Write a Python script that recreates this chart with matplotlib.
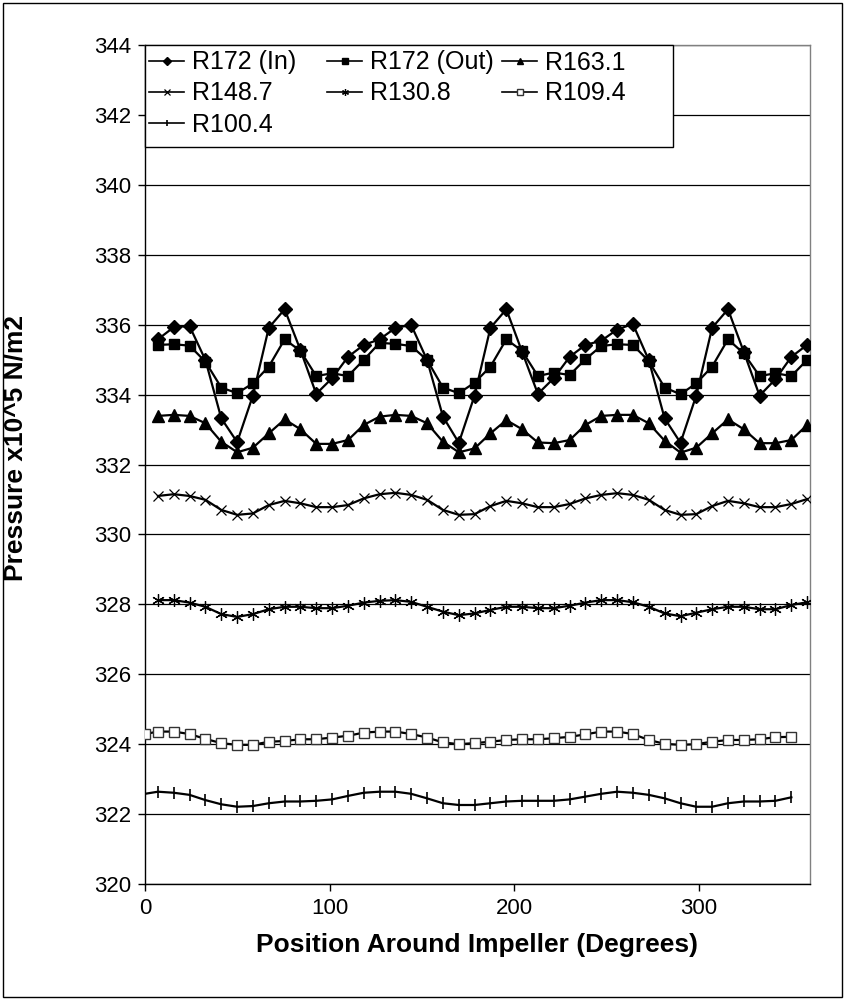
import matplotlib
matplotlib.use("Agg")
import matplotlib.pyplot as plt
from matplotlib.patches import Rectangle

plt.rcParams['font.family'] = ['Liberation Sans', 'DejaVu Sans']

# Measurement angles (degrees) around the impeller
angles = [7.0, 15.6, 24.1, 32.7, 41.3, 49.9, 58.4, 67.0, 75.6, 84.1, 92.7, 101.3,
          109.9, 118.4, 127.0, 135.6, 144.1, 152.7, 161.3, 169.9, 178.4, 187.0,
          195.6, 204.1, 212.7, 221.3, 229.9, 238.4, 247.0, 255.6, 264.1, 272.7,
          281.3, 289.9, 298.4, 307.0, 315.6, 324.1, 332.7, 341.3, 349.9, 358.4]
angles_inner = [0.0, 7.0, 15.6, 24.1, 32.7, 41.3, 49.9, 58.4, 67.0, 75.6, 84.1, 92.7,
                101.3, 109.9, 118.4, 127.0, 135.6, 144.1, 152.7, 161.3, 169.9, 178.4,
                187.0, 195.6, 204.1, 212.7, 221.3, 229.9, 238.4, 247.0, 255.6, 264.1,
                272.7, 281.3, 289.9, 298.4, 307.0, 315.6, 324.1, 332.7, 341.3, 349.9]

# Pressure (x10^5 N/m2) at each radius
r172_in = [335.58, 335.93, 335.96, 334.99, 333.32, 332.64, 333.97, 335.91, 336.44, 335.28,
           334.02, 334.47, 335.08, 335.42, 335.58, 335.91, 335.99, 334.99, 333.37, 332.62,
           333.97, 335.91, 336.44, 335.23, 334.02, 334.47, 335.08, 335.42, 335.54, 335.86,
           336.02, 334.99, 333.32, 332.62, 333.97, 335.91, 336.44, 335.23, 333.97, 334.44,
           335.08, 335.42]
r172_out = [335.42, 335.44, 335.40, 334.94, 334.20, 334.04, 334.32, 334.80, 335.58, 335.25,
            334.53, 334.61, 334.53, 334.99, 335.48, 335.45, 335.39, 334.99, 334.20, 334.04,
            334.34, 334.80, 335.58, 335.25, 334.53, 334.63, 334.56, 335.01, 335.39, 335.44,
            335.42, 334.96, 334.20, 334.01, 334.32, 334.80, 335.58, 335.18, 334.53, 334.61,
            334.53, 334.99]
r163_1 = [333.39, 333.42, 333.39, 333.18, 332.65, 332.35, 332.48, 332.89, 333.29, 333.01,
          332.59, 332.59, 332.70, 333.13, 333.37, 333.42, 333.39, 333.18, 332.65, 332.35,
          332.46, 332.89, 333.27, 333.01, 332.63, 332.61, 332.70, 333.13, 333.39, 333.42,
          333.42, 333.18, 332.68, 332.34, 332.48, 332.89, 333.29, 333.01, 332.61, 332.61,
          332.70, 333.13]
r148_7 = [331.10, 331.15, 331.10, 330.99, 330.70, 330.56, 330.60, 330.84, 330.96, 330.89,
          330.78, 330.78, 330.84, 331.03, 331.15, 331.19, 331.13, 330.99, 330.70, 330.56,
          330.58, 330.81, 330.96, 330.89, 330.78, 330.78, 330.87, 331.03, 331.13, 331.18,
          331.13, 330.99, 330.70, 330.56, 330.58, 330.81, 330.96, 330.89, 330.78, 330.78,
          330.87, 331.01]
r130_8 = [328.12, 328.12, 328.05, 327.93, 327.72, 327.64, 327.72, 327.86, 327.93, 327.93,
          327.89, 327.89, 327.96, 328.05, 328.10, 328.12, 328.07, 327.93, 327.79, 327.69,
          327.74, 327.84, 327.93, 327.93, 327.89, 327.89, 327.96, 328.05, 328.12, 328.12,
          328.06, 327.93, 327.74, 327.66, 327.76, 327.86, 327.93, 327.93, 327.86, 327.86,
          327.98, 328.06]
r109_4 = [324.29, 324.36, 324.36, 324.29, 324.15, 324.03, 323.98, 323.98, 324.07, 324.09,
          324.14, 324.14, 324.19, 324.24, 324.33, 324.36, 324.36, 324.29, 324.19, 324.05,
          324.00, 324.03, 324.07, 324.12, 324.14, 324.14, 324.17, 324.21, 324.28, 324.36,
          324.36, 324.29, 324.12, 324.01, 323.98, 324.00, 324.07, 324.12, 324.12, 324.14,
          324.20, 324.21]
r100_4 = [322.58, 322.64, 322.61, 322.55, 322.40, 322.28, 322.21, 322.23, 322.31, 322.36,
          322.36, 322.38, 322.42, 322.52, 322.61, 322.64, 322.64, 322.58, 322.45, 322.31,
          322.26, 322.26, 322.31, 322.36, 322.38, 322.38, 322.38, 322.42, 322.50, 322.58,
          322.64, 322.61, 322.55, 322.45, 322.31, 322.21, 322.21, 322.31, 322.36, 322.36,
          322.38, 322.48]

y_ticks = list(range(320, 345, 2))
x_ticks = [0, 100, 200, 300]

fig = plt.figure(figsize=(8.45, 10.0), dpi=100)
ax = fig.add_axes([145 / 845, 116 / 1000, 665 / 845, 839 / 1000])

lw = 1.6
h_in, = ax.plot(angles, r172_in, color='black', lw=lw, marker='D', ms=7.5,
                mfc='black', mec='black', label='R172 (In)', zorder=5)
h_out, = ax.plot(angles, r172_out, color='black', lw=lw, marker='s', ms=7,
                 mfc='black', mec='black', label='R172 (Out)', zorder=5)
h_163, = ax.plot(angles, r163_1, color='black', lw=lw, marker='^', ms=8,
                 mfc='black', mec='black', label='R163.1', zorder=5)
h_148, = ax.plot(angles, r148_7, color='black', lw=lw, marker='x', ms=7,
                 mew=0.9, label='R148.7', zorder=5)
h_130, = ax.plot(angles, r130_8, color='black', lw=lw, marker=(6, 2, 0), ms=9,
                 mew=0.9, label='R130.8', zorder=5)
h_109, = ax.plot(angles_inner, r109_4, color='black', lw=lw, marker='s', ms=7.5,
                 mfc='white', mec='#333333', mew=1.0, label='R109.4', zorder=5)
h_100, = ax.plot(angles_inner, r100_4, color='black', lw=lw, marker='|', ms=9,
                 mew=1.2, label='R100.4', zorder=5)

ax.set_xlim(0, 360)
ax.set_ylim(320, 344)
ax.set_xticks(x_ticks)
ax.set_yticks(y_ticks)
ax.tick_params(axis='both', labelsize=16, direction='out', length=5,
               width=1, color='black', pad=5)
ax.grid(axis='y', color='black', lw=0.9)
ax.set_axisbelow(True)

for side in ['top', 'right']:
    ax.spines[side].set_color('#808080')
    ax.spines[side].set_linewidth(1.0)
for side in ['left', 'bottom']:
    ax.spines[side].set_color('black')
    ax.spines[side].set_linewidth(1.0)

ax.set_xlabel('Position Around Impeller (Degrees)', fontsize=19,
              fontweight='bold', labelpad=10)
ax.set_ylabel('Pressure x10^5 N/m2', fontsize=19, fontweight='bold')
ax.yaxis.set_label_coords(-0.177, 0.52)

# Legend box: a fixed-size white panel in the upper-left corner of the plot
legend_box = Rectangle((0, 0.8784), 528 / 665, 1 - 0.8784, transform=ax.transAxes,
                       facecolor='white', edgecolor='black', lw=1.0, zorder=9,
                       clip_on=False)
ax.add_patch(legend_box)

# Legend entries arranged in three columns, each column placed on its own
columns = [([h_in, h_148, h_100], 2), ([h_out, h_130], 180), ([h_163, h_109], 355)]
legends = []
for col_handles, x_px in columns:
    leg = ax.legend(handles=col_handles, labels=[h.get_label() for h in col_handles],
                    loc='upper left', bbox_to_anchor=(x_px / 665, 1 - 3 / 839),
                    fontsize=18, frameon=False, markerscale=0.55,
                    handlelength=1.4, handletextpad=0.3, labelspacing=0.28,
                    borderpad=0.1, borderaxespad=0)
    for line in leg.get_lines():
        line.set_linewidth(1.2)
    leg.set_zorder(10)
    legends.append(leg)
for leg in legends[:-1]:
    ax.add_artist(leg)

# Outer chart border
fig.patches.append(Rectangle((0.003, 0.003), 0.994, 0.994, transform=fig.transFigure,
                             fill=False, edgecolor='black', lw=1.0))

fig.savefig('out.png', dpi=100)
